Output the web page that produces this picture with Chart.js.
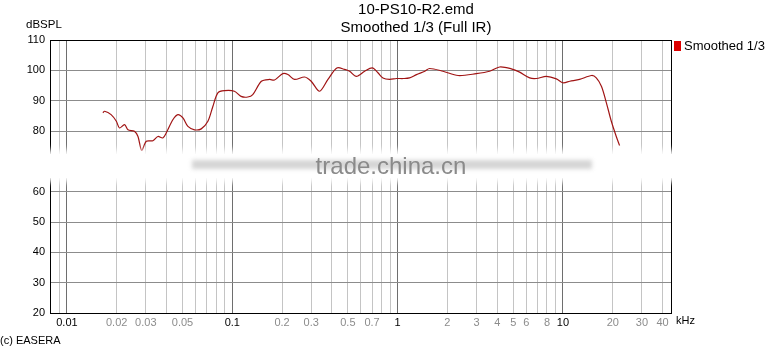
<!DOCTYPE html>
<html>
<head>
<meta charset="utf-8">
<script src="https://cdn.jsdelivr.net/npm/chart.js@4/dist/chart.umd.min.js"></script>
<style>
  html, body { margin: 0; padding: 0; background: #fff; }
  #grafico { display: block; }
</style>
</head>
<body>
<canvas id="grafico" width="782" height="351"></canvas>
<script>
// frequency in kHz, level in dB SPL
const freqKHz = [
  0.0165, 0.0169, 0.0185, 0.0199, 0.0208, 0.0223, 0.0234, 0.0256, 0.0269, 0.0283,
  0.0302, 0.0331, 0.0355, 0.0380, 0.0399, 0.0437, 0.0469, 0.0503, 0.0539, 0.0591,
  0.0649, 0.0712, 0.0763, 0.0818, 0.0898, 0.103, 0.113, 0.124, 0.133, 0.150,
  0.168, 0.180, 0.202, 0.217, 0.238, 0.274, 0.300, 0.337, 0.379, 0.429,
  0.478, 0.512, 0.563, 0.632, 0.703, 0.760, 0.815, 0.895, 0.982, 1.08,
  1.18, 1.30, 1.46, 1.56, 1.88, 2.32, 2.99, 3.60, 4.14, 4.87,
  5.47, 6.29, 6.90, 7.94, 9.12, 10.0, 11.0, 12.6, 14.9, 15.9,
  17.1, 18.3, 19.6, 21.0, 22.0
];
const splDb = [
  86.0, 86.5, 85.4, 83.2, 81.0, 82.1, 80.4, 79.9, 78.2, 73.6,
  76.6, 76.8, 78.2, 77.7, 79.4, 83.7, 85.4, 84.3, 81.5, 80.4,
  80.7, 83.2, 88.1, 92.6, 93.3, 93.1, 91.4, 91.2, 92.0, 96.4,
  97.0, 96.8, 98.9, 98.6, 97.0, 97.8, 96.4, 93.1, 97.0, 100.8,
  100.3, 99.7, 98.0, 99.7, 100.8, 99.2, 97.5, 97.0, 97.3, 97.3,
  97.5, 98.6, 99.7, 100.6, 99.7, 98.3, 98.9, 99.7, 101.1, 100.5,
  99.4, 97.5, 97.3, 98.0, 97.2, 95.9, 96.4, 97.0, 98.3, 97.5,
  94.7, 89.3, 83.2, 78.2, 75.2
];
const xLabels = [0.01, 0.02, 0.03, 0.05, 0.1, 0.2, 0.3, 0.5, 0.7, 1, 2, 3, 4, 5, 6, 8, 10, 20, 30, 40];
const yTicks = [20, 30, 40, 50, 60, 70, 80, 90, 100, 110];

const fonte = "'Liberation Sans', Arial, sans-serif";

function mesmoValor(a, b) {
  return Math.abs(a - b) < b * 1e-6;
}

function ehDecada(v) {
  const l = Math.log10(v);
  return Math.abs(l - Math.round(l)) < 1e-6;
}

// grid lines at 1..9 x 10^k inside the axis range
function linhasX() {
  const out = [];
  for (let k = -3; k <= 1; k++) {
    for (let m = 1; m <= 9; m++) {
      const v = Number((m * Math.pow(10, k)).toPrecision(2));
      if (v >= 0.0079 && v <= 45) out.push(v);
    }
  }
  return out;
}

const decoracao = {
  id: 'decoracao',
  afterDraw(chart) {
    const ctx = chart.ctx;
    const a = chart.chartArea;
    ctx.save();

    ctx.strokeStyle = '#000';
    ctx.lineWidth = 1;
    ctx.strokeRect(Math.round(a.left) + 0.5, Math.round(a.top) + 0.5,
      Math.round(a.right - a.left), Math.round(a.bottom - a.top));

    // blurred band over the 70 dB line
    ctx.filter = 'blur(3px)';
    ctx.fillStyle = '#fff';
    ctx.fillRect(24, 150, 662, 32);
    ctx.filter = 'none';
    ctx.fillRect(26, 154, 658, 24);
    ctx.filter = 'blur(2px)';
    ctx.fillStyle = 'rgba(185,185,185,0.6)';
    ctx.fillRect(192, 160, 400, 9);
    ctx.filter = 'none';

    ctx.fillStyle = '#8a8a8a';
    ctx.font = '24px ' + fonte;
    ctx.textAlign = 'center';
    ctx.textBaseline = 'middle';
    ctx.fillText('trade.china.cn', 391, 167);

    ctx.fillStyle = '#000';
    ctx.font = '15px ' + fonte;
    ctx.fillText('10-PS10-R2.emd', 416, 10);
    ctx.fillText('Smoothed 1/3 (Full IR)', 416, 28);

    ctx.textAlign = 'left';
    ctx.font = '11.5px ' + fonte;
    ctx.fillText('dBSPL', 26, 25);
    ctx.font = '11px ' + fonte;
    ctx.fillText('kHz', 676, 321);
    ctx.fillText('(c) EASERA', 0, 341);

    ctx.fillStyle = '#dd0000';
    ctx.fillRect(674, 41, 7, 10);
    ctx.fillStyle = '#000';
    ctx.font = '13px ' + fonte;
    ctx.fillText('Smoothed 1/3', 684, 46);

    ctx.restore();
  }
};

function criarGrafico() {
  const canvas = document.getElementById('grafico');
  const ctx = canvas.getContext('2d');

  new Chart(ctx, {
    type: 'line',
    data: {
      datasets: [
        {
          label: 'Smoothed 1/3',
          data: freqKHz.map((f, i) => ({ x: f, y: splDb[i] })),
          borderColor: '#a01414',
          borderWidth: 1.2,
          pointRadius: 0,
          tension: 0.3,
          fill: false,
        },
      ],
    },
    options: {
      responsive: false,
      animation: false,
      devicePixelRatio: 1,
      layout: { padding: { top: 40, right: 111, bottom: 0, left: 0 } },
      plugins: {
        legend: { display: false },
        title: { display: false },
        tooltip: { enabled: false },
      },
      scales: {
        x: {
          type: 'logarithmic',
          min: 0.0079,
          max: 45,
          afterBuildTicks: (scale) => {
            scale.ticks = linhasX().map((v) => ({ value: v }));
          },
          afterFit: (scale) => { scale.height = 38; },
          border: { display: false },
          grid: {
            drawTicks: false,
            color: (c) => (c.tick && ehDecada(c.tick.value) ? '#6e6e6e' : '#c4c4c4'),
          },
          ticks: {
            autoSkip: false,
            maxRotation: 0,
            padding: 3,
            font: { family: fonte, size: 11 },
            color: (c) => (c.tick && ehDecada(c.tick.value) ? '#000' : '#8c8c8c'),
            callback: (value) => {
              const l = xLabels.find((v) => mesmoValor(value, v));
              return l === undefined ? '' : String(l);
            },
          },
        },
        y: {
          min: 20,
          max: 110,
          afterBuildTicks: (scale) => {
            scale.ticks = yTicks.map((v) => ({ value: v }));
          },
          afterFit: (scale) => { scale.width = 50; },
          border: { display: false },
          grid: { drawTicks: false, color: '#8c8c8c' },
          ticks: {
            padding: 5,
            font: { family: fonte, size: 11 },
            color: '#000',
          },
        },
      },
    },
    plugins: [decoracao],
  });
}

document.addEventListener('DOMContentLoaded', criarGrafico);
</script>
</body>
</html>
